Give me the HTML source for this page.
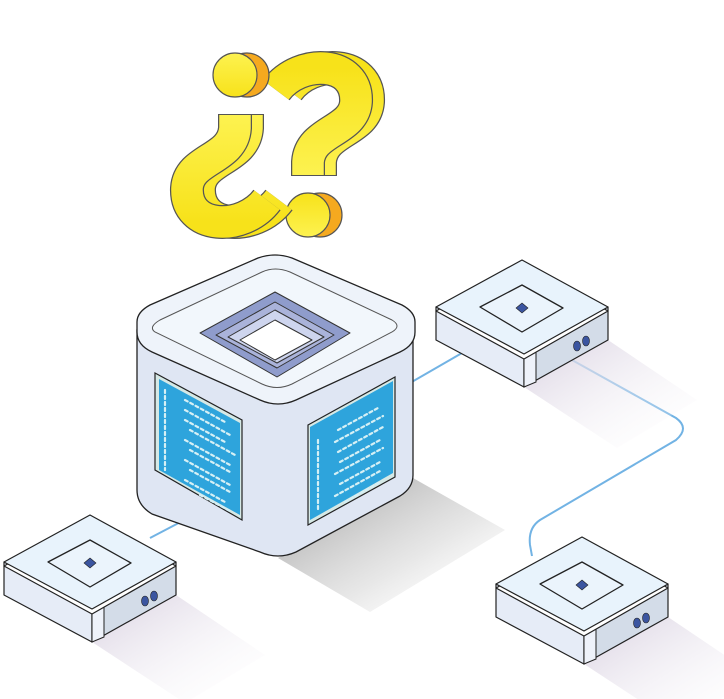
<!DOCTYPE html>
<html><head><meta charset="utf-8"><style>
html,body{margin:0;padding:0;background:#fff;width:724px;height:699px;overflow:hidden;}
svg{display:block;}
</style></head><body>
<svg width="724" height="699" viewBox="0 0 724 699" xmlns="http://www.w3.org/2000/svg">
<defs>
<linearGradient id="cs" x1="0" y1="0" x2="1" y2="1">
<stop offset="0" stop-color="#9a9a9a"/><stop offset="0.6" stop-color="#d8d8d8" stop-opacity="0.6"/><stop offset="1" stop-color="#fff" stop-opacity="0"/></linearGradient>
<linearGradient id="rs" x1="0" y1="0" x2="1" y2="1">
<stop offset="0" stop-color="#d8d0e0"/><stop offset="1" stop-color="#fff" stop-opacity="0"/></linearGradient>
<linearGradient id="yl" x1="0" y1="0" x2="0" y2="1">
<stop offset="0" stop-color="#f7e21a"/><stop offset="1" stop-color="#fdf250"/></linearGradient>
<g id="router">
<polygon points="2,127 86,80 175,140 95,188" fill="url(#rs)"/>
<polygon points="-86,47 2,94 2,127 -86,80" fill="#e6ecf7" stroke="#222" stroke-width="1.2" stroke-linejoin="round"/>
<polygon points="2,94 86,47 86,80 2,127" fill="#d3dce8" stroke="#222" stroke-width="1.2" stroke-linejoin="round"/>
<polygon points="2,98 14,92 14,122 2,127" fill="#eef2fa" stroke="#222" stroke-width="1"/>
<polygon points="0,4 86,51 2,99 -86,51" fill="#fff" stroke="#222" stroke-width="1.2" stroke-linejoin="round"/>
<polygon points="0,0 86,47 2,94 -86,47" fill="#e8f3fc" stroke="#222" stroke-width="1.2" stroke-linejoin="round"/>
<polygon points="0,25 41,48 0,72 -42,47" fill="#ebf4fc" stroke="#222" stroke-width="1.3" stroke-linejoin="round"/>
<polygon points="0,43 6,48 0,53 -6,48" fill="#3b55a0" stroke="#222" stroke-width="0.6"/>
<ellipse cx="55" cy="86" rx="3.5" ry="5" fill="#3b55a0" stroke="#222" stroke-width="0.6"/>
<ellipse cx="64" cy="81" rx="3.5" ry="5" fill="#3b55a0" stroke="#222" stroke-width="0.6"/>
</g>
<g id="qm">
<path d="M276,90 C300,58 358,60 356,102 C354,132 310,130 308,162 L308,176" fill="none" stroke="#555" stroke-width="34"/>
<path d="M276,90 C300,58 358,60 356,102 C354,132 310,130 308,162 L308,175" fill="none" stroke="url(#yl)" stroke-width="31.5"/>
<circle cx="308" cy="215" r="22" stroke="#555" stroke-width="1.2"/>
</g>
</defs>

<g fill="none" stroke="#72b3e4" stroke-width="2">
<path d="M150,538 L192,516"/>
<path d="M410,383 L462,353"/>
<path d="M572,360 L676,418 Q690,428 676,440 L540,520 Q528,528 530,545 L532,556"/>
</g>

<polygon points="278,558 413,478 505,530 370,612" fill="url(#cs)"/>

<path d="M137,330 L137,490 Q137,505 152,514 L260,552 Q278,560 296,552 L400,496 Q413,488 413,475 L413,330 Z" fill="#dfe6f3" stroke="#222" stroke-width="1.3"/>
<path d="M137,322 Q137,312 150,305 L258,258 Q275,252 292,258 L402,305 Q415,312 415,322 L415,332 Q415,345 400,352 L296,400 Q278,408 260,400 L152,352 Q137,345 137,332 Z" fill="#eef3fa" stroke="#222" stroke-width="1.3"/>
<path d="M155,332 Q148,327 160,320 L262,272 Q275,266 290,272 L392,320 Q402,326 392,332 L292,384 Q277,391 262,384 Z" fill="#f2f7fc" stroke="#555" stroke-width="1"/>
<polygon points="275,292 350,333 277,377 200,333" fill="#8f9ccc" stroke="#333" stroke-width="1" stroke-linejoin="round"/>
<polygon points="275,302 334,335 277,368 216,335" fill="#aab3da" stroke="#333" stroke-width="1" stroke-linejoin="round"/>
<polygon points="275,310 324,337 277,363 228,337" fill="#ced5ee" stroke="#333" stroke-width="1" stroke-linejoin="round"/>
<polygon points="275,320 312,340 275,360 240,340" fill="#fff" stroke="#333" stroke-width="1" stroke-linejoin="round"/>
<polygon points="155,373 242,420 242,520 155,470" fill="#d6e9e6" stroke="#222" stroke-width="1.2"/>
<polygon points="159,379 240,423 240,515 159,470" fill="#2ea4dc"/>
<polygon points="308,425 395,377 395,477 308,525" fill="#d6e9e6" stroke="#222" stroke-width="1.2"/>
<polygon points="310,427 393,381 393,473 310,520" fill="#2ea4dc"/>
<g stroke="#d6f0f5" stroke-width="2.2" stroke-linecap="round">
<path d="M165,390 v80 M185,400 l40,22 M185,410 l45,25 M185,420 l40,22 M190,430 l45,25 M185,440 l45,25 M190,450 l40,22 M185,460 l45,25 M190,470 l40,22 M185,480 l40,22 M200,495 l30,16" stroke-dasharray="3 3"/>
<path d="M318,440 v70 M338,430 l40,-22 M335,442 l48,-26 M338,452 l45,-25 M340,462 l40,-22 M335,474 l48,-26 M340,484 l40,-22 M335,496 l45,-25 M345,502 l35,-20" stroke-dasharray="3 3"/>
</g>

<use href="#router" x="522" y="260"/>
<use href="#router" x="90" y="515"/>
<use href="#router" x="582" y="537"/>

<g fill="#f5a91f"><use href="#qm" x="12" y="0"/></g>
<g fill="url(#yl)"><use href="#qm"/></g>
<g transform="rotate(180 271.5 145) translate(-12 0)" fill="#f5a91f"><use href="#qm"/></g>
<g transform="rotate(180 271.5 145)" fill="url(#yl)"><use href="#qm"/></g>
</svg>
</body></html>
